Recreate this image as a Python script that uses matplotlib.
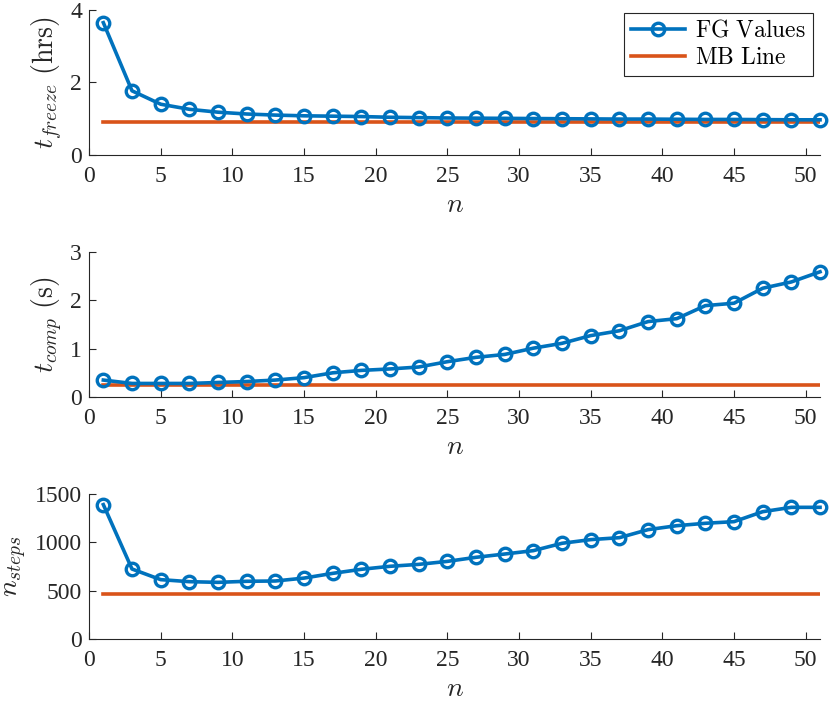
import numpy as np
import matplotlib
matplotlib.use("Agg")
import matplotlib.pyplot as plt

plt.rcParams['font.family'] = ['Liberation Serif', 'DejaVu Serif']
plt.rcParams['mathtext.fontset'] = 'cm'

# data
n = np.arange(1, 52, 2)
t_freeze = [3.65, 1.77, 1.40, 1.26, 1.18, 1.13, 1.10, 1.08, 1.07, 1.06, 1.04, 1.03, 1.02,
            1.015, 1.01, 1.005, 1.0, 0.995, 0.99, 0.99, 0.985, 0.98, 0.98, 0.975, 0.97, 0.97]
t_freeze_mb = 0.92
t_comp = [0.35, 0.28, 0.28, 0.28, 0.30, 0.32, 0.35, 0.40, 0.50, 0.55, 0.58, 0.62, 0.73,
          0.82, 0.88, 1.01, 1.11, 1.27, 1.37, 1.56, 1.62, 1.89, 1.94, 2.25, 2.38, 2.59]
t_comp_mb = 0.24
n_steps = [1390, 724, 614, 593, 586, 597, 600, 630, 679, 721, 752, 772, 803,
           845, 879, 914, 990, 1028, 1048, 1131, 1172, 1197, 1214, 1317, 1362, 1362]
n_steps_mb = 469

panels = [
    (t_freeze, t_freeze_mb, r'$t_{freeze}\ \mathrm{(hrs)}$', [0, 4], [0, 2, 4]),
    (t_comp, t_comp_mb, r'$t_{comp}\ \mathrm{(s)}$', [0, 3], [0, 1, 2, 3]),
    (n_steps, n_steps_mb, r'$n_{steps}$', [0, 1500], [0, 500, 1000, 1500]),
]

blue = '#0072BD'
orange = '#D95319'

fig = plt.figure(figsize=(8.31, 7.06), dpi=100)
bottoms = [0.7805, 0.4377, 0.0949]

for i, (vals, mb, ylab, ylim, yticks) in enumerate(panels):
    ax = fig.add_axes([0.1071, bottoms[i], 0.8797, 0.2054])
    ax.plot(n, vals, '-o', color=blue, lw=2.6, ms=9, mew=2.4,
            mfc='none', clip_on=False, zorder=3, label=r'$\mathrm{FG\ Values}$')
    ax.plot([n[0], n[-1]], [mb, mb], '-', color=orange, lw=2.6,
            zorder=2, label=r'$\mathrm{MB\ Line}$')
    ax.set_xlim(0, 51)
    ax.set_ylim(*ylim)
    ax.set_xticks(np.arange(0, 51, 5))
    ax.set_yticks(yticks)
    for s in ['top', 'right']:
        ax.spines[s].set_visible(False)
    for s in ['left', 'bottom']:
        ax.spines[s].set_color('#262626')
        ax.spines[s].set_linewidth(0.8)
    ax.tick_params(direction='in', length=5, width=0.8, colors='#262626',
                   labelsize=17, labelcolor='#262626')
    ax.tick_params(axis='x', pad=8)
    ax.tick_params(axis='y', pad=5)
    ax.set_xlabel(r'$n$', fontsize=20, color='#262626', labelpad=4)
    ax.set_ylabel(ylab, fontsize=20, color='#262626', labelpad=4)
    if i == 0:
        leg = ax.legend(loc='upper right', bbox_to_anchor=(0.99, 0.98),
                        borderaxespad=0, fontsize=17, fancybox=False,
                        framealpha=1, edgecolor='#262626', handlelength=2.3,
                        borderpad=0.3, labelspacing=0.25, handletextpad=0.4)
        leg.get_frame().set_linewidth(0.8)

fig.savefig('out.png', dpi=100)
